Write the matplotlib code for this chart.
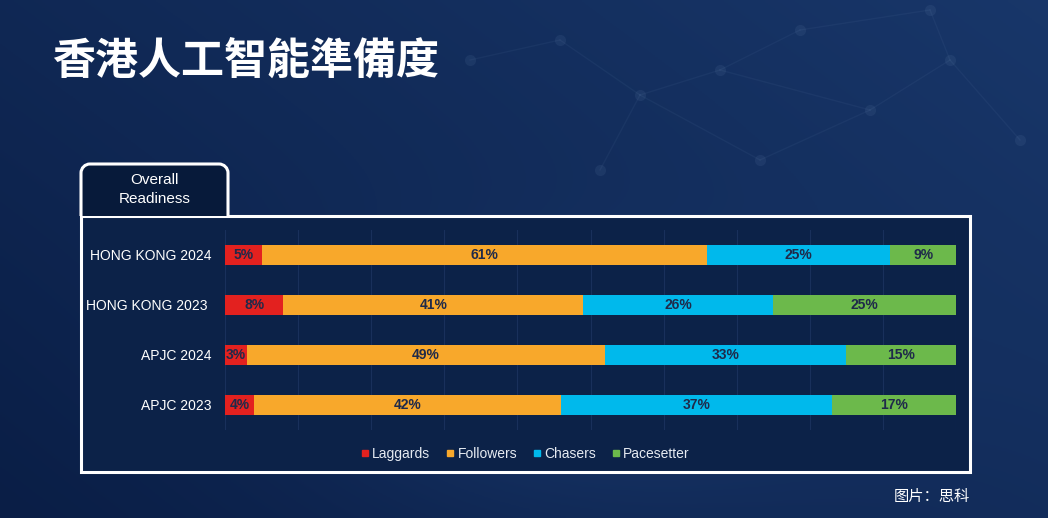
import numpy as np
import matplotlib
matplotlib.use("Agg")
import matplotlib.pyplot as plt
from matplotlib.patches import Rectangle, PathPatch
from matplotlib.path import Path
from matplotlib.lines import Line2D

plt.rcParams['font.family'] = ['Liberation Sans', 'Noto Sans CJK TC', 'DejaVu Sans']

categories = ["HONG KONG 2024", "HONG KONG 2023 ", "APJC 2024", "APJC 2023"]
series_names = ["Laggards", "Followers", "Chasers", "Pacesetter"]
laggards = [5, 8, 3, 4]
followers = [61, 41, 49, 42]
chasers = [25, 26, 33, 37]
pacesetter = [9, 25, 15, 17]
series_values = [laggards, followers, chasers, pacesetter]
colors = ["#e3211f", "#f8a82b", "#00b9ec", "#6cb94b"]

W, H = 1048, 518
fig = plt.figure(figsize=(W / 100, H / 100), dpi=100)

# background gradient
bg = fig.add_axes([0, 0, 1, 1])
yy, xx = np.mgrid[0:1:200j, 0:1:400j]
val = 0.45 * xx + 0.3 * (1 - yy) + 0.35 * np.exp(-((xx - 0.55) ** 2 + (yy - 0.75) ** 2) / 0.06)
c0 = np.array([0x0a, 0x1e, 0x46]) / 255
c1 = np.array([0x1f, 0x42, 0x7a]) / 255
img = c0[None, None, :] + (c1 - c0)[None, None, :] * np.clip(val / 1.1, 0, 1)[:, :, None]
bg.imshow(img, extent=[0, W, 0, H], aspect='auto', origin='upper')
# faint network lines
pts = [(470, 60), (560, 40), (640, 95), (720, 70), (800, 30), (870, 110), (950, 60), (1020, 140), (760, 160), (600, 170), (930, 10)]
edges = [(0, 1), (1, 2), (2, 3), (3, 4), (3, 5), (5, 6), (6, 7), (5, 8), (8, 2), (2, 9), (4, 10), (6, 10)]
for a, b in edges:
    bg.plot([pts[a][0], pts[b][0]], [H - pts[a][1], H - pts[b][1]], color='#8fb0d8', alpha=0.06, lw=1)
for p in pts:
    bg.plot(p[0], H - p[1], 'o', color='#9cbbe0', alpha=0.08, ms=8, mec='none')
bg.set_xlim(0, W)
bg.set_ylim(0, H)
bg.axis('off')

# title
bg.text(52, H - 62, "香港人工智能準備度", color='white', fontsize=31, fontweight='bold',
        family=['Noto Sans CJK TC', 'DejaVu Sans'], va='center', ha='left')

# panel
bg.add_patch(Rectangle((81, H - 472), 889, 256, facecolor='#0c2248', edgecolor='white', lw=2.2, zorder=2))
# tab (open bottom, rounded top corners)
x0, x1, yb, yt, r = 81, 228, H - 216, H - 164, 9
k = 0.5523 * r
verts = [(x0, yb), (x0, yt - r),
         (x0, yt - r + k), (x0 + r - k, yt), (x0 + r, yt),
         (x1 - r, yt),
         (x1 - r + k, yt), (x1, yt - r + k), (x1, yt - r),
         (x1, yb)]
codes = [Path.MOVETO, Path.LINETO,
         Path.CURVE4, Path.CURVE4, Path.CURVE4,
         Path.LINETO,
         Path.CURVE4, Path.CURVE4, Path.CURVE4,
         Path.LINETO]
bg.add_patch(PathPatch(Path(verts, codes), facecolor='#071a3a', edgecolor='white', lw=2.2, zorder=3))
bg.text(154.5, H - 189.5, "Overall\nReadiness", color='white', fontsize=11, ha='center', va='center',
        linespacing=1.5, zorder=6)

# caption
bg.text(970, H - 496, "图片：思科", color='white', fontsize=11, ha='right', va='center',
        family=['Noto Sans CJK SC', 'DejaVu Sans'])

# chart axes
ax = fig.add_axes([225 / W, 1 - 430 / H, 731 / W, 200 / H])
ax.set_facecolor('none')
y = np.arange(len(categories))
left = np.zeros(len(categories))
for name, vals, col in zip(series_names, series_values, colors):
    vals = np.array(vals, dtype=float)
    ax.barh(y, vals, left=left, height=0.4, color=col, edgecolor='none', zorder=3, label=name)
    for yi, (l, v) in enumerate(zip(left, vals)):
        ax.text(l + v / 2, yi, f"{int(v)}%", ha='center', va='center', color='#1f2a4a',
                fontsize=10, fontweight='bold', zorder=4)
    left += vals
ax.set_xlim(0, 100)
ax.set_ylim(len(categories) - 0.5, -0.5)
ax.set_xticks(np.arange(0, 101, 10))
ax.grid(axis='x', color='#233a68', lw=0.8, alpha=0.6, zorder=0)
ax.tick_params(axis='x', length=0, labelbottom=False)
ax.tick_params(axis='y', length=0, pad=10, labelcolor='white', labelsize=10)
ax.set_yticks(y)
ax.set_yticklabels(categories)
for s in ax.spines.values():
    s.set_visible(False)

handles = [Line2D([0], [0], marker='s', ls='none', color=c, ms=5) for c in colors]
leg = fig.legend(handles, series_names, loc='center', bbox_to_anchor=(525 / W, 1 - 454 / H), ncol=4,
                 frameon=False, fontsize=10, labelcolor='#e6ebf2', handletextpad=0.15,
                 columnspacing=1.1, handlelength=0.7)

fig.savefig("out.png", dpi=100)
